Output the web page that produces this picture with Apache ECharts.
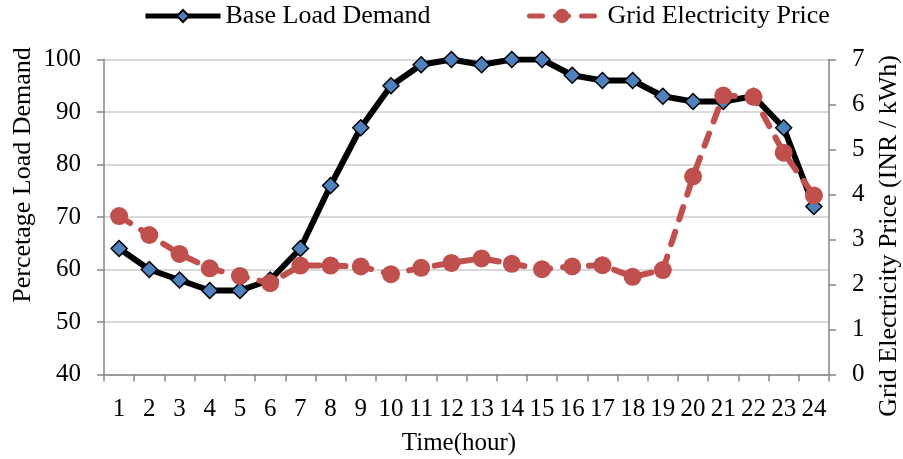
<!DOCTYPE html>
<html>
<head>
<meta charset="utf-8">
<script src="https://cdn.jsdelivr.net/npm/echarts@6/dist/echarts.min.js"></script>
<style>
html,body{margin:0;padding:0;background:#fff;}
#chart{width:903px;height:459px;}
</style>
</head>
<body>
<div id="chart"></div>
<script>
var hours = ['1','2','3','4','5','6','7','8','9','10','11','12','13','14','15','16','17','18','19','20','21','22','23','24'];
var baseLoad = [64, 60, 58, 56, 56, 58, 64, 76, 87, 95, 99, 100, 99, 100, 100, 97, 96, 96, 93, 92, 92, 93, 87, 72];
var gridPrice = [3.52, 3.1, 2.68, 2.36, 2.19, 2.03, 2.42, 2.42, 2.4, 2.23, 2.37, 2.48, 2.58, 2.46, 2.34, 2.4, 2.43, 2.17, 2.32, 4.4, 6.2, 6.17, 4.93, 3.98];
var leftTicks = {min: 40, max: 100, interval: 10};
var rightTicks = {min: 0, max: 7, interval: 1};
var titles = {
  x: 'Time(hour)',
  yLeft: 'Percetage Load Demand',
  yRight: 'Grid Electricity Price (INR / kWh)',
  s1: 'Base Load Demand',
  s2: 'Grid Electricity Price'
};

var FONT = '"Liberation Serif", "Times New Roman", serif';
var axisGray = '#868686';

var chart = echarts.init(document.getElementById('chart'));
chart.setOption({
  backgroundColor: '#fff',
  animation: false,
  textStyle: {fontFamily: FONT, color: '#000'},
  legend: [
    {
      data: [titles.s1], left: 143, top: 3, padding: 0, itemWidth: 75, itemHeight: 15,
      lineStyle: {width: 5},
      textStyle: {fontFamily: FONT, fontSize: 26, color: '#000', lineHeight: 26}
    },
    {
      data: [titles.s2], left: 527, top: 3, padding: 0, itemWidth: 65, itemHeight: 18,
      lineStyle: {width: 5},
      textStyle: {fontFamily: FONT, fontSize: 26, color: '#000', lineHeight: 26, padding: [0, 0, 0, 8]}
    }
  ],
  grid: {left: 104, right: 74, top: 59.5, bottom: 84.5, containLabel: false},
  xAxis: {
    type: 'category',
    data: hours,
    boundaryGap: true,
    axisLine: {lineStyle: {color: axisGray, width: 1.5}},
    axisTick: {show: true, length: 7, lineStyle: {color: axisGray, width: 1.5}, alignWithLabel: false},
    axisLabel: {interval: 0, fontFamily: FONT, fontSize: 25, color: '#000', margin: 22},
    splitLine: {show: false}
  },
  yAxis: [
    {
      type: 'value', min: leftTicks.min, max: leftTicks.max, interval: leftTicks.interval,
      axisLine: {show: true, lineStyle: {color: axisGray, width: 1.5}},
      axisTick: {show: true, length: 7, lineStyle: {color: axisGray, width: 1.5}},
      axisLabel: {fontFamily: FONT, fontSize: 25, color: '#000', margin: 23},
      splitLine: {show: true, lineStyle: {color: '#d9d9d9', width: 2}}
    },
    {
      type: 'value', min: rightTicks.min, max: rightTicks.max, interval: rightTicks.interval,
      position: 'right',
      axisLine: {show: true, lineStyle: {color: axisGray, width: 1.5}},
      axisTick: {show: true, length: 7, lineStyle: {color: axisGray, width: 1.5}},
      axisLabel: {fontFamily: FONT, fontSize: 25, color: '#000', margin: 23},
      splitLine: {show: false}
    }
  ],
  series: [
    {
      name: titles.s1,
      type: 'line',
      yAxisIndex: 0,
      data: baseLoad,
      symbol: 'diamond',
      symbolSize: 16,
      lineStyle: {color: '#000', width: 6},
      itemStyle: {color: '#4f81bd', borderColor: '#000', borderWidth: 1.5},
      z: 2
    },
    {
      name: titles.s2,
      type: 'line',
      yAxisIndex: 1,
      data: gridPrice,
      symbol: 'circle',
      symbolSize: 18,
      lineStyle: {color: '#c0504d', width: 6, type: [13, 13], cap: 'round'},
      itemStyle: {color: '#c0504d', borderWidth: 0},
      z: 3
    }
  ],
  graphic: [
    {
      type: 'text', x: 23, y: 175, rotation: Math.PI / 2,
      style: {text: titles.yLeft, font: '26px ' + FONT, fill: '#000', align: 'center', verticalAlign: 'middle'}
    },
    {
      type: 'text', x: 889, y: 236, rotation: Math.PI / 2,
      style: {text: titles.yRight, font: '26px ' + FONT, fill: '#000', align: 'center', verticalAlign: 'middle'}
    },
    {
      type: 'text', x: 459, y: 443,
      style: {text: titles.x, font: '25px ' + FONT, fill: '#000', align: 'center', verticalAlign: 'middle'}
    }
  ]
});
</script>
</body>
</html>
